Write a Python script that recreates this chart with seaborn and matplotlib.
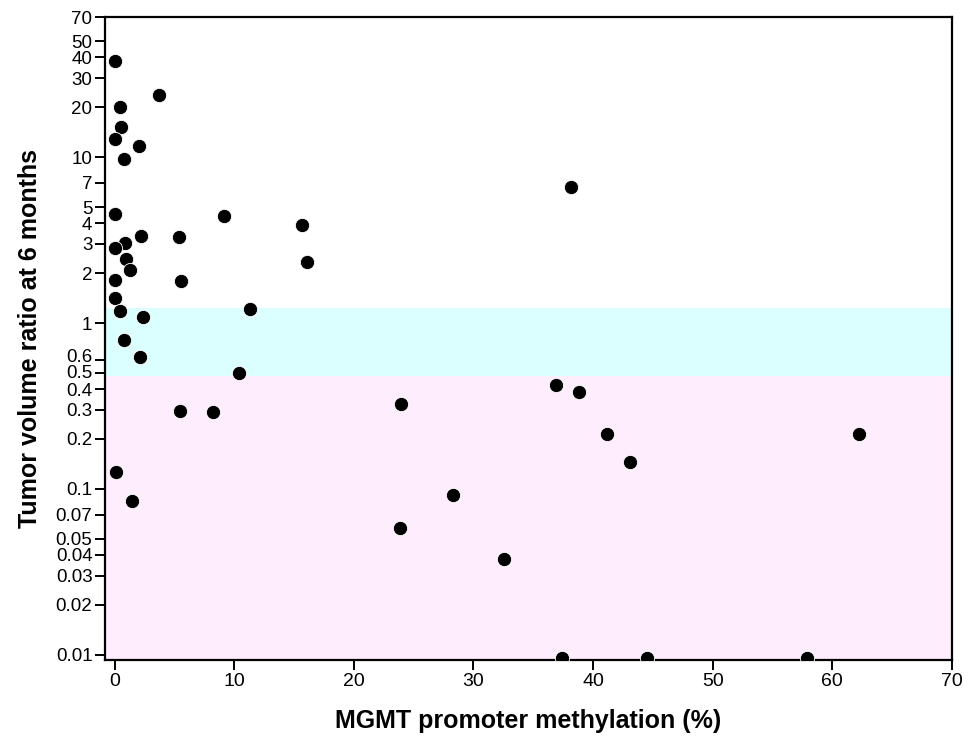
import matplotlib
matplotlib.use("Agg")
import matplotlib.pyplot as plt
import matplotlib.transforms as mtrans
import seaborn as sns
import pandas as pd

# MGMT promoter methylation (%)
methylation = [0, 3.75, 0.47, 0.56, 0, 2.08, 0.75, 0, 9.17, 15.7, 2.17, 5.36, 0.83, 0,
               0.92, 1.25, 16.1, 0, 5.58, 0, 11.33, 0.47, 2.39, 0.78, 2.11, 10.39,
               5.5, 8.19, 0.14, 1.44,
               38.13, 36.9, 38.8, 23.97, 41.13, 62.23, 43.1, 28.32, 23.9, 32.57,
               37.37, 44.48, 57.91]
# Tumor volume ratio at 6 months
volume_ratio = [38, 23.7, 20, 15.1, 12.8, 11.6, 9.7, 4.54, 4.44, 3.92, 3.35, 3.28, 3.03, 2.84,
                2.42, 2.09, 2.34, 1.81, 1.79, 1.42, 1.21, 1.18, 1.09, 0.79, 0.62, 0.5,
                0.296, 0.292, 0.127, 0.085,
                6.6, 0.424, 0.385, 0.327, 0.213, 0.215, 0.146, 0.092, 0.058, 0.0377,
                0.0096, 0.0095, 0.0095]

y_ticks = [0.01, 0.02, 0.03, 0.04, 0.05, 0.07, 0.1, 0.2, 0.3, 0.4, 0.5, 0.6,
           1, 2, 3, 4, 5, 7, 10, 20, 30, 40, 50, 70]
y_tick_labels = ["0.01", "0.02", "0.03", "0.04", "0.05", "0.07", "0.1", "0.2", "0.3", "0.4",
                 "0.5", "0.6", "1", "2", "3", "4", "5", "7", "10", "20", "30", "40", "50", "70"]
x_ticks = [0, 10, 20, 30, 40, 50, 60, 70]

band_stable = (0.48, 1.24)     # cyan band
band_response_top = 0.48       # pink band upper limit

df = pd.DataFrame({"methylation": methylation, "ratio": volume_ratio})

sns.set_style("white")
plt.rcParams["font.family"] = ["Liberation Sans", "DejaVu Sans"]
plt.rcParams["text.color"] = "black"
plt.rcParams["axes.labelcolor"] = "black"

fig = plt.figure(figsize=(9.78, 7.43), dpi=100)
ax = fig.add_axes([105 / 978, 1 - 660 / 743, (952 - 105) / 978, (660 - 17) / 743])

ax.set_yscale("log")
ax.set_xlim(-0.8, 70)
ax.set_ylim(0.0093, 70)

ax.axhspan(band_stable[0], band_stable[1], color="#DBFFFF", zorder=0, lw=0)
ax.axhspan(0.0093, band_response_top, color="#FEEDFC", zorder=0, lw=0)

sns.scatterplot(data=df, x="methylation", y="ratio", ax=ax, color="black",
                s=105, edgecolor="white", linewidth=0.6, zorder=3, legend=False)

ax.set_yticks(y_ticks)
ax.set_yticklabels(y_tick_labels)
ax.yaxis.set_minor_locator(matplotlib.ticker.NullLocator())
ax.set_xticks(x_ticks)
ax.set_xticklabels([str(t) for t in x_ticks])

for sp in ax.spines.values():
    sp.set_visible(True)
    sp.set_color("black")
    sp.set_linewidth(1.6)

ax.tick_params(axis="both", which="major", direction="out", length=7, width=1.4,
               color="black", labelcolor="black", pad=2, left=True, bottom=True)
ax.tick_params(axis="x", labelsize=14)
ax.tick_params(axis="y", labelsize=13.5)

# small label nudges where the log ticks are crowded
shifts = {"0.6": 4, "0.5": 1}
for lab in ax.get_yticklabels():
    dy = shifts.get(lab.get_text(), 0)
    if dy:
        lab.set_transform(lab.get_transform() +
                          mtrans.ScaledTranslation(0, dy / 100, fig.dpi_scale_trans))

ax.set_xlabel("MGMT promoter methylation (%)", fontsize=18, fontweight="bold", labelpad=14)
ax.set_ylabel("Tumor volume ratio at 6 months", fontsize=18, fontweight="bold", labelpad=10)

fig.savefig("out.png", dpi=100)
